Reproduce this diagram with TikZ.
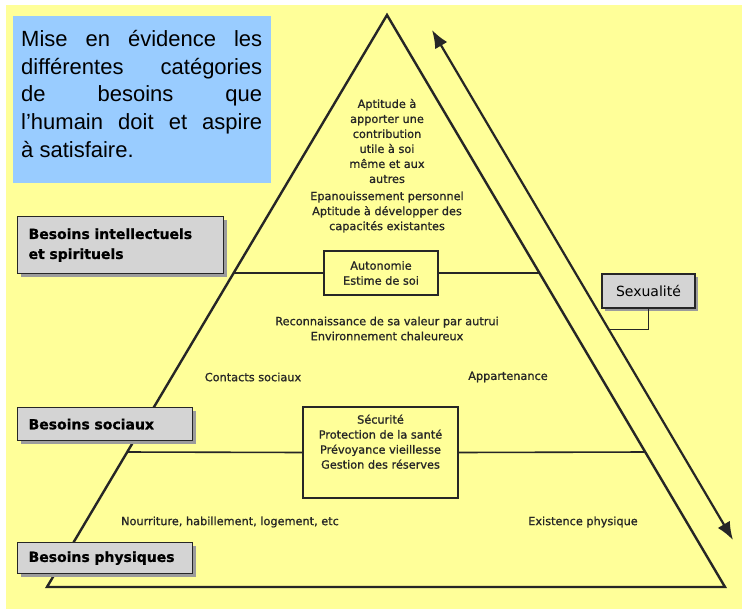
\documentclass[tikz,border=0pt]{standalone}
\usepackage{fontspec}
\usepackage{tikz}
\usetikzlibrary{calc,arrows.meta,positioning,shadows}

\newfontfamily\blurbfont{Liberation Sans}
\newfontfamily\scanfont{DejaVu Sans}
\newfontfamily\scanthick[FakeBold=1]{DejaVu Sans}

\definecolor{bgyellow}{HTML}{FFFF99}
\definecolor{blurbblue}{HTML}{99CCFF}
\definecolor{boxgray}{HTML}{D4D4D4}
\definecolor{shadegray}{HTML}{9C9C9C}
\definecolor{ink}{HTML}{262626}

\begin{document}
\begin{tikzpicture}[x=1pt,y=-1pt]

  % Parameters
  \def\lvlup{0.451}
  \def\lvldown{0.764}
  \def\hook{0.588}

  % Styles
  \tikzstyle{shadebox}=[draw=ink,line width=1.2pt,fill=boxgray,drop shadow={shadow xshift=3pt,shadow yshift=-3pt,fill=shadegray,opacity=1}]
  \tikzstyle{need}=[shadebox,anchor=north west,inner xsep=11pt,inner ysep=0pt,align=left,text=black,font=\scanthick\bfseries\fontsize{14}{20}\selectfont]
  \tikzstyle{frame}=[draw=ink,line width=1.2pt,fill=bgyellow,inner sep=0pt]
  \tikzstyle{pyrtext}=[align=center,inner sep=0pt,text=ink,font=\scanthick\fontsize{11.3}{15}\selectfont]
  \tikzstyle{edge}=[draw=ink,line width=2.4pt,line join=miter]
  \tikzstyle{tier}=[draw=ink,line width=1.6pt]
  \tikzstyle{to}=[{Latex[length=18pt,width=14pt]}-{Latex[length=18pt,width=14pt]},draw=ink,line width=2.2pt]

  % ===========================================================================

  % Background
  \useasboundingbox (0,0) rectangle (742,609);
  \fill[white] (0,0) rectangle (742,609);
  \fill[bgyellow] (6,5) rectangle (742,609);

  % Blurb
  \node[fill=blurbblue,anchor=north west,minimum width=258,minimum height=167,inner sep=0pt] (blurb) at (13,16) {};
  \node[anchor=north west,inner sep=0pt,align=left,font=\blurbfont\fontsize{22}{27.7}\selectfont] (blurb-txt) at ($(blurb.north west)+(8,14)$)
    {\makebox[241pt][s]{Mise en évidence les}\\
     \makebox[241pt][s]{différentes catégories}\\
     \makebox[241pt][s]{de besoins que}\\
     \makebox[241pt][s]{l’humain doit et aspire}\\
     à satisfaire.};

  % Pyramid
  \coordinate (apex) at (387,15);
  \coordinate (base-l) at (47,587);
  \coordinate (base-r) at (725,587);
  \draw[edge] (apex) -- (base-r) -- (base-l) -- cycle;

  \coordinate (up-l) at ($(apex)!\lvlup!(base-l)$);
  \coordinate (up-r) at ($(apex)!\lvlup!(base-r)$);
  \coordinate (down-l) at ($(apex)!\lvldown!(base-l)$);
  \coordinate (down-r) at ($(apex)!\lvldown!(base-r)$);

  % Level boxes
  \node[frame,minimum width=114,minimum height=44,pyrtext] (autonomie) at (381,273) {Autonomie\\Estime de soi};
  \node[frame,minimum width=155,minimum height=91] (securite) at (380.5,452.5) {};
  \node[pyrtext,below=8pt of securite.north] (securite-txt) {Sécurité\\Protection de la santé\\Prévoyance vieillesse\\Gestion des réserves};

  \draw[tier] (up-l) -- (autonomie.west);
  \draw[tier] (autonomie.east) -- (up-r);
  \draw[tier] (down-l) -- (securite.west);
  \draw[tier] (securite.east) -- (down-r);

  % Level texts
  \node[pyrtext] (aspire) at (387,141) {Aptitude à\\apporter une\\contribution\\utile à soi\\même et aux\\autres};
  \node[pyrtext] (epanouir) at (387,212) {Epanouissement personnel\\Aptitude à développer des\\capacités existantes};
  \node[pyrtext] (valeur) at (387,328.5) {Reconnaissance de sa valeur par autrui\\Environnement chaleureux};
  \node[pyrtext] (contacts) at (253,377) {Contacts sociaux};
  \node[pyrtext] (appart) at (508,377) {Appartenance};
  \node[pyrtext] (nourrir) at (230,522) {Nourriture, habillement, logement, etc};
  \node[pyrtext] (existe) at (583,522) {Existence physique};

  % Needs
  \node[need,text width=184pt,minimum height=57] (intel) at (17,216) {Besoins intellectuels\\et spirituels};
  \node[need,text width=153pt,minimum height=33] (sociaux) at (17,407) {Besoins sociaux};
  \node[need,text width=153pt,minimum height=31] (physiq) at (17,542) {Besoins physiques};

  % Arrow and sexuality
  \coordinate (arr-top) at (432,30);
  \coordinate (arr-bot) at (733,540);
  \draw[to] (arr-top) -- (arr-bot);
  \coordinate (arr-hook) at ($(arr-top)!\hook!(arr-bot)$);

  \node[shadebox,minimum width=93,minimum height=34,inner sep=0pt,text=black,font=\scanfont\fontsize{14}{17}\selectfont] (sexualite) at (648.5,291) {Sexualité};
  \draw[ink,line width=1.2pt] (sexualite.south) |- (arr-hook);

\end{tikzpicture}
\end{document}
